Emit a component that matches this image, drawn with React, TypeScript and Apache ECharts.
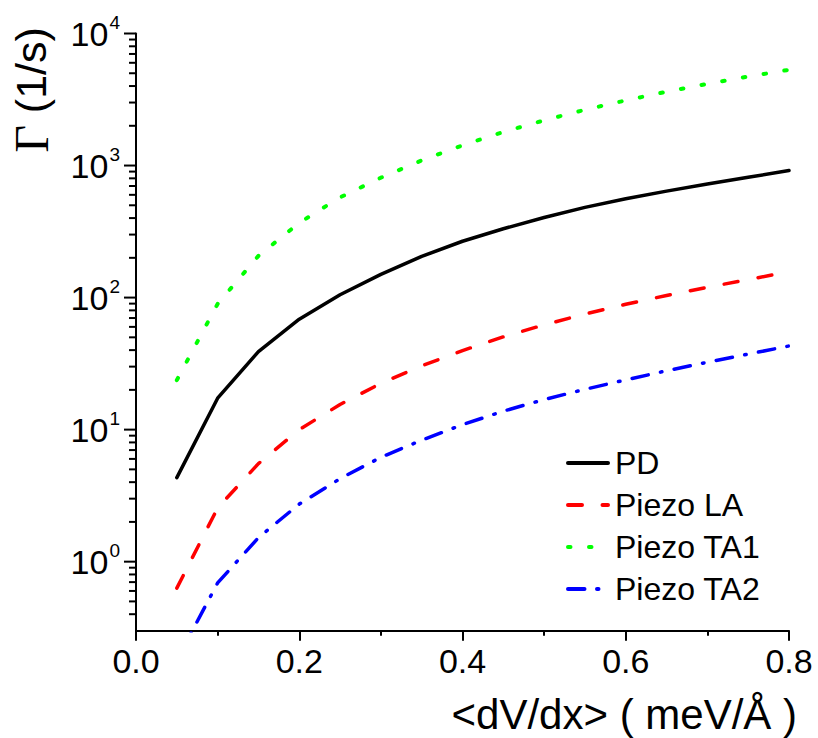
import React, { useEffect, useRef } from "react";
import * as echarts from "echarts";

const xValues = [0.05, 0.1, 0.15, 0.2, 0.25, 0.3, 0.35, 0.4, 0.45, 0.5, 0.55, 0.6, 0.65, 0.7, 0.75, 0.8];
const pdValues = [4.33, 17.3, 39, 68.6, 105, 150, 205, 267, 332, 404, 482, 560, 640, 724, 815, 916];
const laValues = [0.63, 2.55, 5.53, 10.0, 15.5, 22.4, 30.4, 39.7, 50.4, 62.2, 75, 88.9, 103.8, 119.7, 136.8, 157];
const ta1Values = [23.7, 89.6, 207, 368, 574, 809, 1094, 1422, 1795, 2200, 2643, 3113, 3625, 4160, 4720, 5310];
const ta2Values = [0.18, 0.69, 1.52, 2.73, 4.25, 6.17, 8.32, 10.9, 13.8, 16.9, 20.2, 23.8, 27.9, 32.4, 37.3, 43];

const seriesNames = ["PD", "Piezo LA", "Piezo TA1", "Piezo TA2"];
const yMajorTicks = [1, 10, 100, 1000, 10000];
const yMinorTicks = [
  0.4, 0.5, 0.6, 0.7, 0.8, 0.9,
  2, 3, 4, 5, 6, 7, 8, 9,
  20, 30, 40, 50, 60, 70, 80, 90,
  200, 300, 400, 500, 600, 700, 800, 900,
  2000, 3000, 4000, 5000, 6000, 7000, 8000, 9000,
];

const FONT = "'Liberation Sans', Arial, Helvetica, sans-serif";

function pairs(vals: number[]) {
  return xValues.map((x, i) => [x, vals[i]]);
}

const yTitle = {
  id: "yTitle",
  type: "text",
  x: 31,
  y: 90,
  rotation: Math.PI / 2,
  style: {
    text: "{g|Γ}{a| (1/s)}",
    align: "center",
    verticalAlign: "middle",
    rich: {
      g: { fontSize: 48, fontFamily: "'Liberation Serif', 'Times New Roman', serif", fill: "#000" },
      a: { fontSize: 43, fontFamily: FONT, fill: "#000" },
    },
  },
};

export default function App() {
  const ref = useRef<HTMLDivElement>(null);
  useEffect(() => {
    if (!ref.current) return;
    const chart = echarts.init(ref.current, undefined, { renderer: "svg" });
    const lw = 3.5;
    chart.setOption({
      animation: false,
      backgroundColor: "#fff",
      grid: { left: 136, right: 29, top: 33.5, bottom: 107.3, containLabel: false, outerBoundsMode: "none" },
      legend: {
        data: seriesNames,
        orient: "vertical",
        left: 561,
        top: 442,
        icon: "inherit",
        itemWidth: 40,
        itemHeight: 14,
        itemGap: 10,
        itemStyle: { opacity: 0 },
        lineStyle: { width: 4 },
        textStyle: { fontSize: 32, fontFamily: FONT, color: "#000", lineHeight: 32, padding: [0, 0, 0, 2] },
      },
      xAxis: {
        type: "value",
        min: 0,
        max: 0.8,
        interval: 0.2,
        name: "<dV/dx> ( meV/Å )",
        nameLocation: "end",
        nameGap: 8,
        nameMoveOverlap: false,
        nameTextStyle: {
          fontSize: 42,
          fontFamily: FONT,
          color: "#000",
          align: "right",
          verticalAlign: "top",
          lineHeight: 42,
          padding: [63, 0, 0, 0],
        },
        axisLine: { onZero: false, lineStyle: { color: "#000", width: 2 } },
        axisTick: { show: true, inside: false, length: 10, lineStyle: { color: "#000", width: 2 } },
        minorTick: { show: true, splitNumber: 2, length: 5, lineStyle: { color: "#000", width: 2 } },
        splitLine: { show: false },
        minorSplitLine: { show: false },
        axisLabel: {
          fontSize: 34,
          fontFamily: FONT,
          color: "#000",
          margin: 13,
          formatter: (v: number) => v.toFixed(1),
        },
      },
      yAxis: {
        type: "log",
        logBase: 10,
        min: 0.3,
        max: 10000,
        axisLine: { show: true, lineStyle: { color: "#000", width: 2 } },
        axisTick: { show: false },
        minorTick: { show: false },
        splitLine: { show: false },
        minorSplitLine: { show: false },
        axisLabel: {
          fontSize: 34,
          fontFamily: FONT,
          color: "#000",
          margin: 16,
          formatter: (v: number) => {
            const e = Math.round(Math.log10(v));
            if (Math.abs(v - Math.pow(10, e)) > 1e-6 * v) return "";
            return `{b|10}{s|${e}}`;
          },
          rich: {
            b: { fontSize: 34, fontFamily: FONT, color: "#000" },
            s: { fontSize: 19, fontFamily: FONT, color: "#000", padding: [0, 0, 22, 1] },
          },
        },
      },
      graphic: [yTitle],
      series: [
        {
          name: "PD",
          type: "line",
          symbol: "none",
          clip: true,
          data: pairs(pdValues),
          itemStyle: { color: "#000000" },
          lineStyle: { color: "#000000", width: lw, type: "solid", cap: "round", join: "round" },
        },
        {
          name: "Piezo LA",
          type: "line",
          symbol: "none",
          clip: true,
          data: pairs(laValues),
          itemStyle: { color: "#ff0000" },
          lineStyle: { color: "#ff0000", width: lw, type: [14, 20.5], cap: "round", join: "round" },
        },
        {
          name: "Piezo TA1",
          type: "line",
          symbol: "none",
          clip: true,
          data: pairs(ta1Values),
          itemStyle: { color: "#00ff00" },
          lineStyle: { color: "#00ff00", width: 4, type: [2.5, 18.5], cap: "round", join: "round" },
        },
        {
          name: "Piezo TA2",
          type: "line",
          symbol: "none",
          clip: true,
          data: pairs(ta2Values),
          itemStyle: { color: "#0000ff" },
          lineStyle: { color: "#0000ff", width: lw, type: [16.5, 12.5, 1.5, 12.5], cap: "round", join: "round" },
        },
      ],
    });

    // y-axis log ticks (decades and 2..9 subdivisions), placed through the chart's own y scale
    const x0 = chart.convertToPixel({ xAxisIndex: 0 }, 0) as number;
    const tickEl = (v: number, len: number, i: number, kind: string) => {
      const py = chart.convertToPixel({ yAxisIndex: 0 }, v) as number;
      return {
        id: `${kind}${i}`,
        type: "line",
        silent: true,
        z: 100,
        shape: { x1: x0 - len, y1: py, x2: x0, y2: py },
        style: { stroke: "#000", lineWidth: 2 },
      };
    };
    chart.setOption({
      graphic: [
        yTitle,
        ...yMajorTicks.map((v, i) => tickEl(v, 12, i, "ymaj")),
        ...yMinorTicks.map((v, i) => tickEl(v, 7, i, "ymin")),
      ],
    });
    return () => chart.dispose();
  }, []);
  return (
    <div
      ref={ref}
      style={{ position: "fixed", left: 0, top: 0, width: 818, height: 738, background: "#fff" }}
    />
  );
}
